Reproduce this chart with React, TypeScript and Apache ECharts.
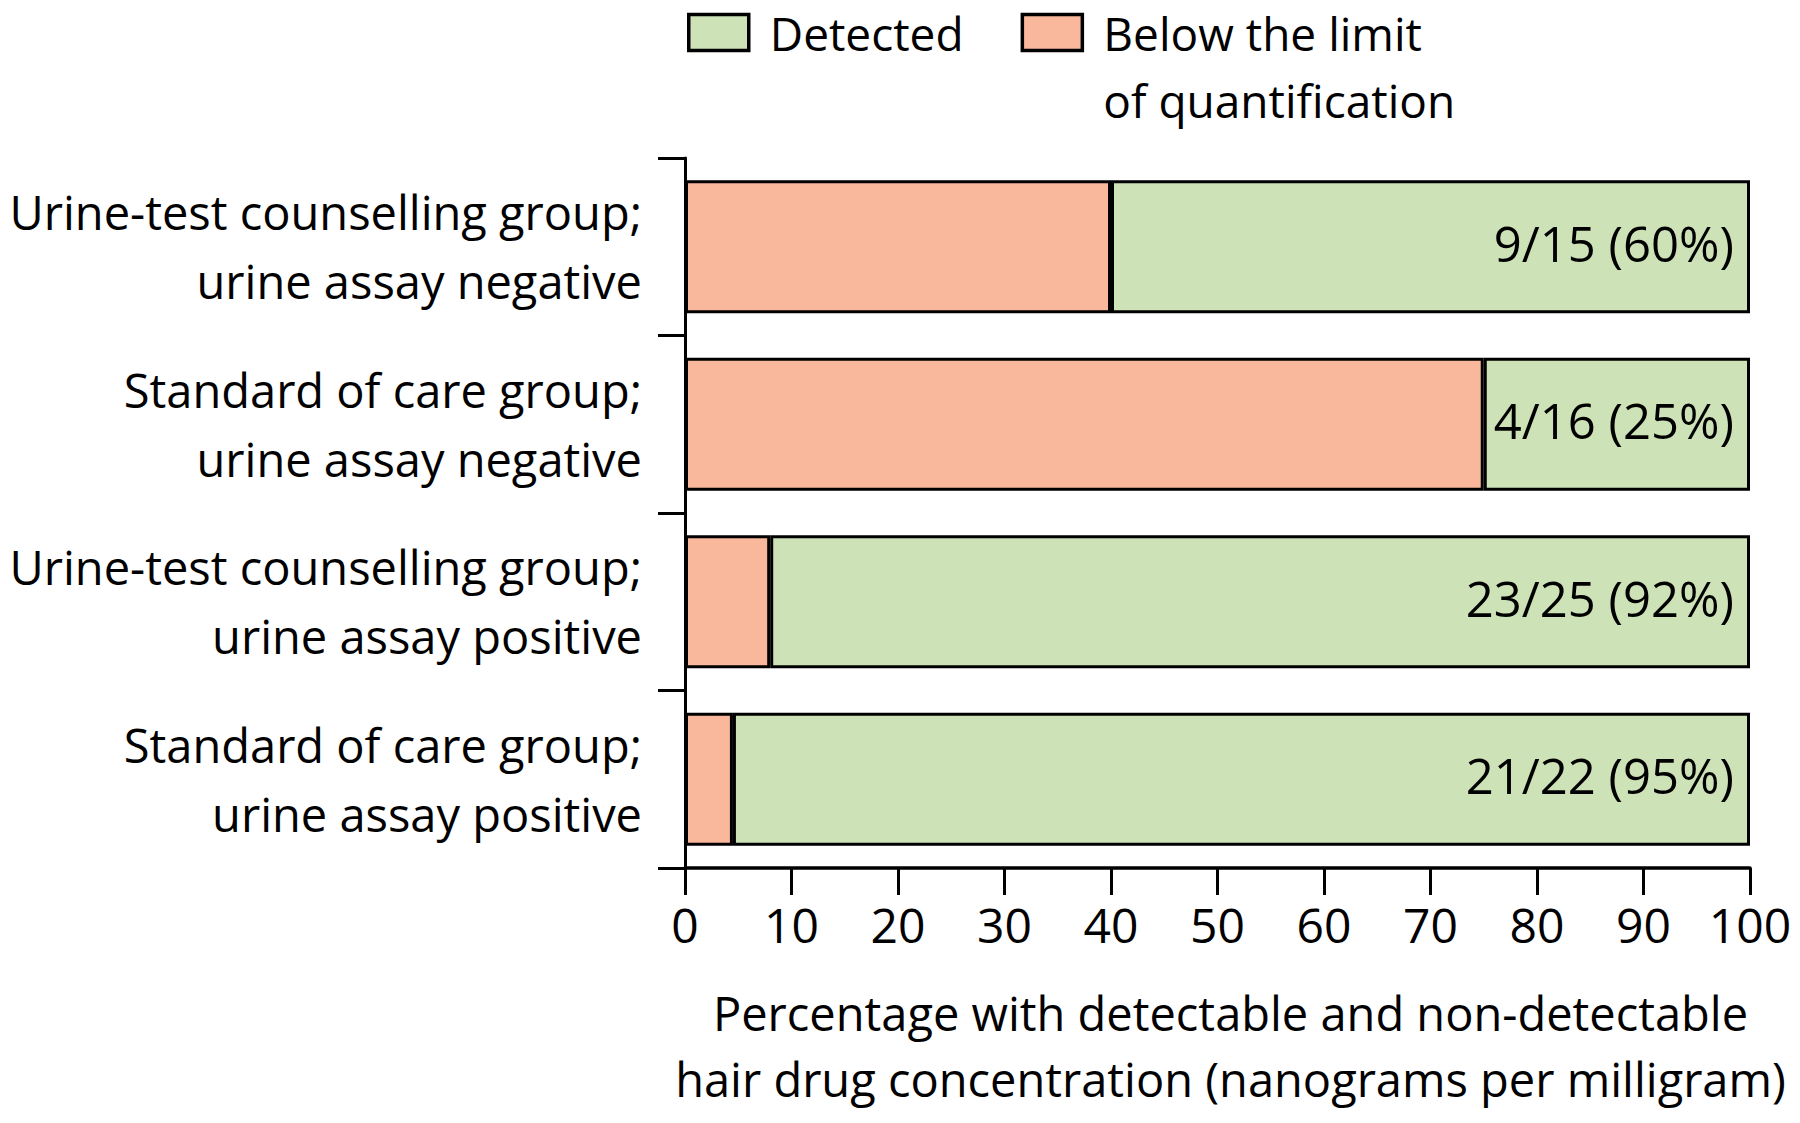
import React, { useEffect, useRef } from "react";
import * as echarts from "echarts";

const categories = [
  "Urine-test counselling group;\nurine assay negative",
  "Standard of care group;\nurine assay negative",
  "Urine-test counselling group;\nurine assay positive",
  "Standard of care group;\nurine assay positive",
];
const belowLimit = [40, 75, 8, 4.5];
const detected = [60, 25, 92, 95.5];
const detectedLabels = ["9/15 (60%)", "4/16 (25%)", "23/25 (92%)", "21/22 (95%)"];
const xTicks = { min: 0, max: 100, interval: 10 };
const seriesNames = { detected: "Detected", below: "Below the limit of quantification" };
const belowLegendText = "\nBelow the limit\nof quantification";
const axisTitle = "Percentage with detectable and non-detectable\nhair drug concentration (nanograms per milligram)";

const FONT = "'Open Sans', 'DejaVu Sans', sans-serif";
const GREEN = "#cde2b7";
const SALMON = "#f9b79b";

export default function App() {
  const ref = useRef<HTMLDivElement>(null);
  useEffect(() => {
    if (!ref.current) return;
    const chart = echarts.init(ref.current, null, { renderer: "svg" });
    chart.setOption({
      animation: false,
      backgroundColor: "#ffffff",
      textStyle: { fontFamily: FONT, color: "#000" },
      legend: {
        left: 687,
        top: -68,
        padding: 0,
        itemWidth: 60,
        itemHeight: 36,
        itemGap: 57,
        icon: "rect",
        itemStyle: { borderColor: "#000", borderWidth: 3.5 },
        textStyle: { fontSize: 46, fontFamily: FONT, color: "#000", lineHeight: 67, padding: [0, 0, 0, 16] },
        formatter: (name: string) => (name === seriesNames.below ? belowLegendText : name),
        data: [{ name: seriesNames.detected }, { name: seriesNames.below }],
      },
      grid: { left: 685, right: 50, top: 158, bottom: 255, containLabel: false },
      xAxis: {
        type: "value",
        min: xTicks.min,
        max: xTicks.max,
        interval: xTicks.interval,
        splitLine: { show: false },
        axisLine: { show: true, lineStyle: { color: "#000", width: 3.5 } },
        axisTick: { show: true, length: 27, lineStyle: { color: "#000", width: 3 } },
        axisLabel: { fontSize: 48, fontFamily: FONT, color: "#000", margin: 32 },
        name: axisTitle,
        nameLocation: "middle",
        nameGap: 112,
        nameTextStyle: { fontSize: 47, fontFamily: FONT, color: "#000", lineHeight: 66, padding: [0, 0, 0, 26] },
      },
      yAxis: {
        type: "category",
        inverse: true,
        data: categories,
        axisLine: { show: true, lineStyle: { color: "#000", width: 3 } },
        axisTick: { show: true, length: 27, alignWithLabel: false, lineStyle: { color: "#000", width: 3 } },
        axisLabel: { fontSize: 47, fontFamily: FONT, color: "#000", lineHeight: 69, margin: 43, align: "right" },
      },
      series: [
        {
          name: seriesNames.below,
          type: "bar",
          stack: "total",
          barCategoryGap: "25%",
          data: belowLimit,
          itemStyle: { color: SALMON, borderColor: "#000", borderWidth: 3 },
        },
        {
          name: seriesNames.detected,
          type: "bar",
          stack: "total",
          barCategoryGap: "25%",
          data: detected,
          itemStyle: { color: GREEN, borderColor: "#000", borderWidth: 3 },
          label: {
            show: true,
            position: "insideRight",
            distance: 16,
            offset: [0, -4],
            fontSize: 49,
            fontFamily: FONT,
            color: "#000",
            formatter: (p: any) => detectedLabels[p.dataIndex],
          },
        },
      ],
    });
    return () => chart.dispose();
  }, []);
  return (
    <div
      ref={ref}
      style={{ position: "fixed", left: 0, top: 0, width: 1800, height: 1123, background: "#fff" }}
    />
  );
}
